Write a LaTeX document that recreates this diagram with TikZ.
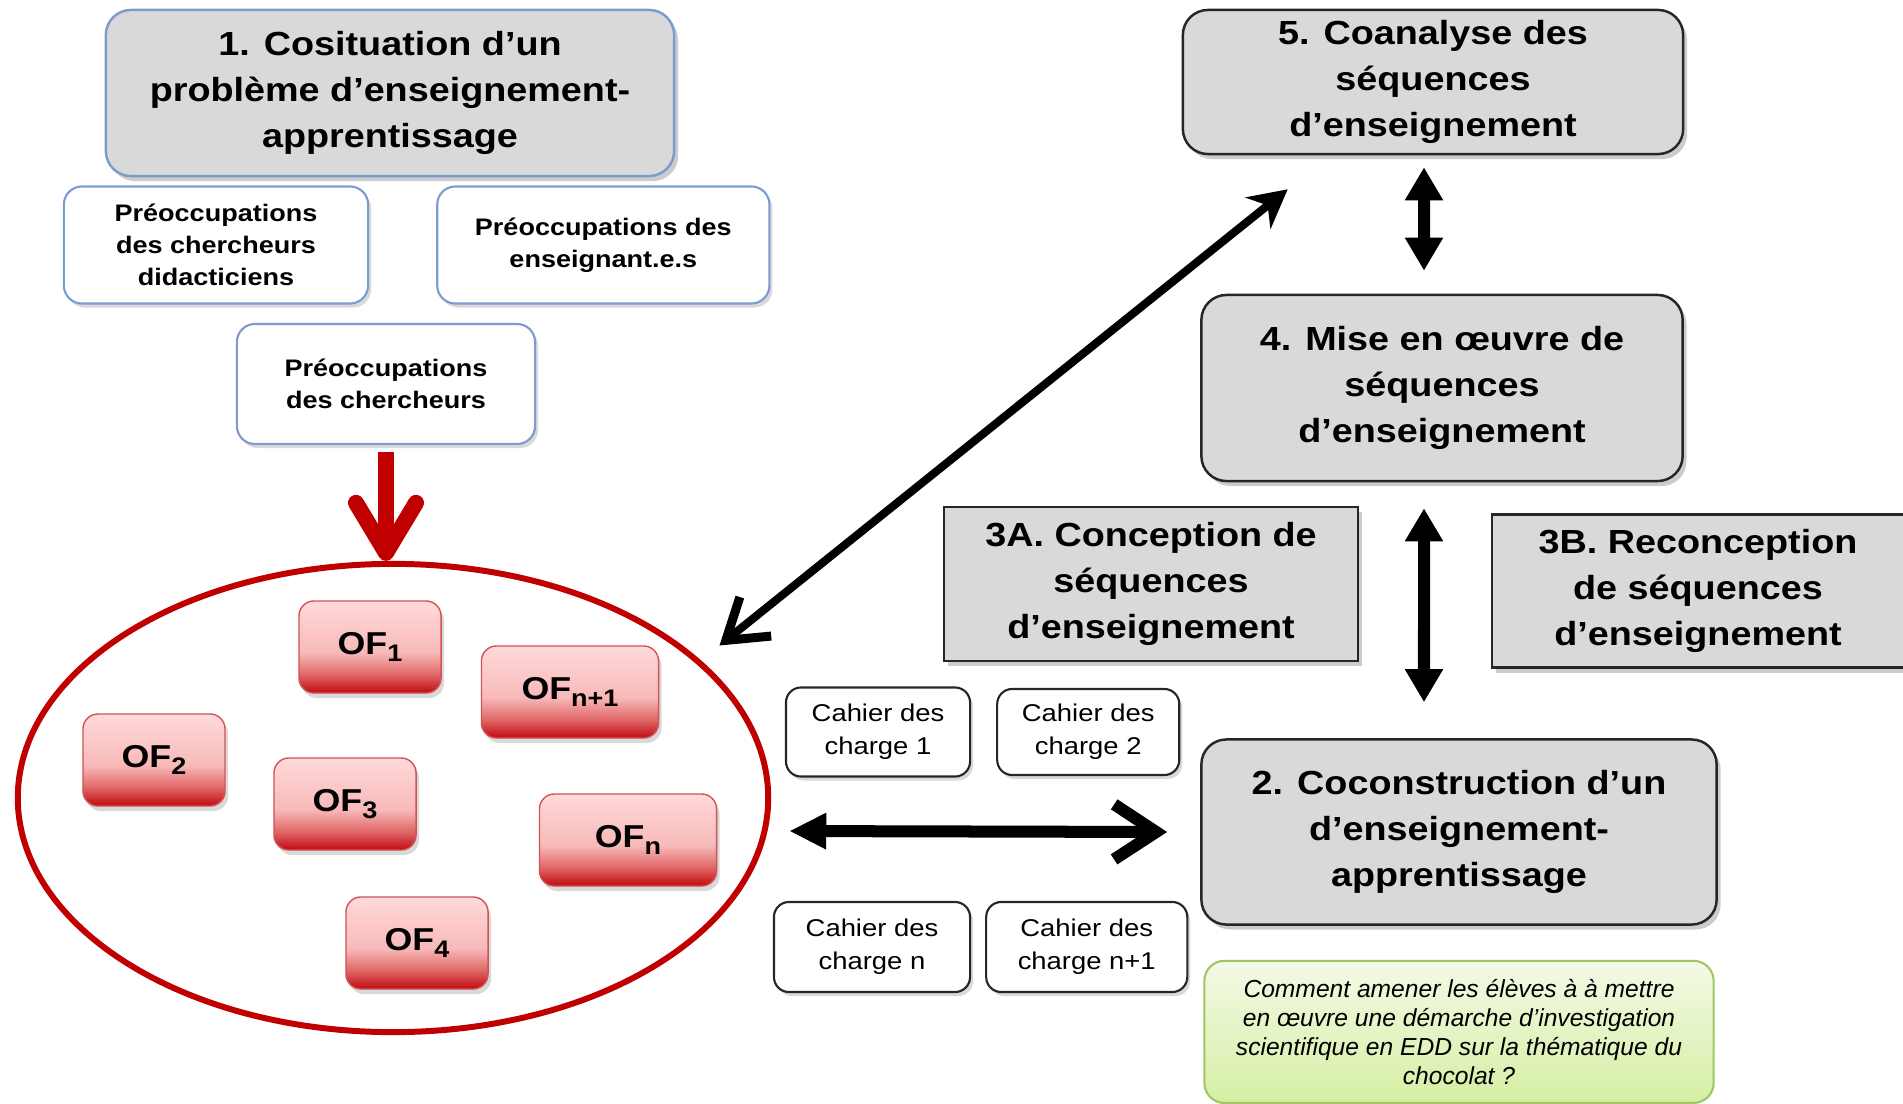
\documentclass[tikz,border=0pt]{standalone}
\usepackage{fontspec}
\setmainfont{Liberation Sans}
\newfontfamily\widesf[FakeStretch=1.13]{Liberation Sans}
\usetikzlibrary{positioning,arrows.meta,shapes.geometric,shadows}
\definecolor{boxgray}{HTML}{D9D9D9}
\definecolor{frameblue}{HTML}{7C9CCF}
\definecolor{ovalred}{HTML}{C00000}
\definecolor{ofdark}{HTML}{BE0A10}
\definecolor{ofmid}{HTML}{E06666}
\definecolor{oflight}{HTML}{F8B9B9}
\definecolor{oftop}{HTML}{FFDADA}
\definecolor{greentop}{HTML}{F3FAE6}
\definecolor{greenbot}{HTML}{D5EFA4}
\definecolor{greenframe}{HTML}{A2C663}
\pgfdeclareverticalshading{ofshade}{100bp}{color(0bp)=(ofdark); color(25bp)=(ofdark); color(35bp)=(ofmid); color(47bp)=(oflight); color(75bp)=(oftop); color(100bp)=(oftop)}
\newcommand{\ofsub}[1]{\raisebox{-0.45ex}{\fontsize{6.8}{7}\selectfont #1}}

\begin{document}
\begin{tikzpicture}[x=0.01cm, y=-0.01cm, >=Stealth, node distance=1cm, every node/.style={align=center}]
  % box styles
  \tikzset{phase/.style={draw=black!85, fill=boxgray, line width=0.7pt, rounded corners=0.25cm, inner sep=0pt,
      font=\widesf\bfseries\fontsize{9.5}{13}\selectfont,
      drop shadow={shadow xshift=0.04cm, shadow yshift=-0.05cm, opacity=0.4}}}
  \tikzset{plan/.style={phase, rounded corners=0pt}}
  \tikzset{concern/.style={draw=frameblue, fill=white, line width=0.6pt, rounded corners=0.18cm, inner sep=0pt,
      font=\widesf\bfseries\fontsize{6.8}{9.1}\selectfont,
      drop shadow={shadow xshift=0.03cm, shadow yshift=-0.04cm, opacity=0.3}}}
  \tikzset{spec/.style={draw=black!85, fill=white, line width=0.6pt, rounded corners=0.15cm, inner sep=0pt,
      font=\widesf\fontsize{6.9}{9.3}\selectfont,
      drop shadow={shadow xshift=0.03cm, shadow yshift=-0.04cm, opacity=0.3}}}
  \tikzset{obj/.style={draw=ofdark!70, shading=ofshade, line width=0.4pt, rounded corners=0.15cm, inner sep=0pt,
      minimum height=0.92cm, font=\widesf\bfseries\fontsize{9}{10}\selectfont,
      drop shadow={shadow xshift=0.03cm, shadow yshift=-0.05cm, opacity=0.3}}}
  \tikzset{question/.style={draw=greenframe, top color=greentop, bottom color=greenbot, line width=0.6pt,
      rounded corners=0.2cm, inner sep=0pt, font=\itshape\fontsize{7}{8.3}\selectfont}}
  \tikzset{twoway/.style={line width=0.12cm, {Triangle[length=0.33cm, width=0.36cm]}-{Triangle[length=0.33cm, width=0.36cm]}}}

  \useasboundingbox (0,0) rectangle (1903,1103);

  % step 1 and concerns
  \node[phase, draw=frameblue, minimum width=5.68cm, minimum height=1.66cm] (cosit) at (390,93) {1. Cosituation d’un\\problème d’enseignement-\\apprentissage};
  \node[concern, minimum width=3.04cm, minimum height=1.17cm] (pdid) at (216,245) {Préoccupations\\des chercheurs\\didacticiens};
  \node[concern, minimum width=3.32cm, minimum height=1.17cm, right=0.67cm of pdid] (pens) {Préoccupations des\\enseignant.e.s};
  \node[concern, minimum width=2.98cm, minimum height=1.2cm] (pch) at (386,384) {Préoccupations\\des chercheurs};

  % objects of formation
  \node[draw=ovalred, line width=1.7pt, ellipse, minimum width=7.5cm, minimum height=4.68cm, inner sep=0pt] (pool) at (393,798) {};
  \node[obj, minimum width=1.42cm] (of1) at (370,647) {OF\ofsub{1}};
  \node[obj, minimum width=1.77cm] (ofn1) at (570,692) {OF\ofsub{n+1}};
  \node[obj, minimum width=1.42cm] (of2) at (154,760) {OF\ofsub{2}};
  \node[obj, minimum width=1.42cm] (of3) at (345,804) {OF\ofsub{3}};
  \node[obj, minimum width=1.77cm] (ofn) at (628,840) {OF\ofsub{n}};
  \node[obj, minimum width=1.42cm] (of4) at (417,943) {OF\ofsub{4}};

  % steps 2 to 5
  \node[phase, minimum width=5cm, minimum height=1.44cm] (coana) at (1433,82) {5. Coanalyse des\\séquences\\d’enseignement};
  \node[phase, minimum width=4.81cm, minimum height=1.86cm] (mise) at (1442,388) {4. Mise en œuvre de\\séquences\\d’enseignement};
  \node[plan, minimum width=4.14cm, minimum height=1.54cm] (concA) at (1151,584) {3A. Conception de\\séquences\\d’enseignement};
  \node[plan, minimum width=4.12cm, minimum height=1.53cm] (concB) at (1698,591) {3B. Reconception\\de séquences\\d’enseignement};
  \node[phase, minimum width=5.15cm, minimum height=1.85cm] (cocon) at (1459,832) {2. Coconstruction d’un\\d’enseignement-\\apprentissage};
  \node[question, minimum width=5.09cm, minimum height=1.42cm, below=0.34cm of cocon] (quest) {Comment amener les élèves à à mettre\\en œuvre une démarche d’investigation\\scientifique en EDD sur la thématique du\\chocolat ?};

  % specifications
  \node[spec, minimum width=1.84cm, minimum height=0.89cm] (cdc1) at (878,732) {Cahier des\\charge 1};
  \node[spec, minimum width=1.82cm, minimum height=0.86cm, right=0.25cm of cdc1] (cdc2) {Cahier des\\charge 2};
  \node[spec, minimum width=1.96cm, minimum height=0.9cm] (cdcn) at (872,947) {Cahier des\\charge n};
  \node[spec, minimum width=2.01cm, minimum height=0.9cm, right=0.14cm of cdcn] (cdcn1) {Cahier des\\charge n+1};

  % arrows
  \draw[draw=ovalred, line width=0.16cm, -{Straight Barb[length=0.5cm, width=0.6cm, round]}] ([yshift=-0.07cm]pch.south) -- (pch.south |- pool.north);
  \draw[line width=2.3pt, {Straight Barb[length=0.38cm, width=0.5cm, line width=0.09cm]}-{Stealth[length=0.38cm, width=0.4cm]}] ([shift={(0.23cm,0.11cm)}]pool.25) -- ([xshift=1.06cm, yshift=-0.34cm]coana.south west);
  \draw[twoway] ([xshift=-0.09cm, yshift=-0.12cm]coana.south) -- ([xshift=-0.18cm, yshift=0.23cm]mise.north);
  \draw[twoway] ([xshift=-0.18cm, yshift=-0.26cm]mise.south) -- ([xshift=-0.35cm, yshift=0.36cm]cocon.north);
  \draw[line width=0.12cm, {Triangle[length=0.37cm, width=0.34cm]}-{Straight Barb[length=0.42cm, width=0.55cm]}] ([xshift=0.18cm, yshift=-0.33cm]pool.east) -- ([xshift=-0.33cm]cocon.west);
\end{tikzpicture}
\end{document}
